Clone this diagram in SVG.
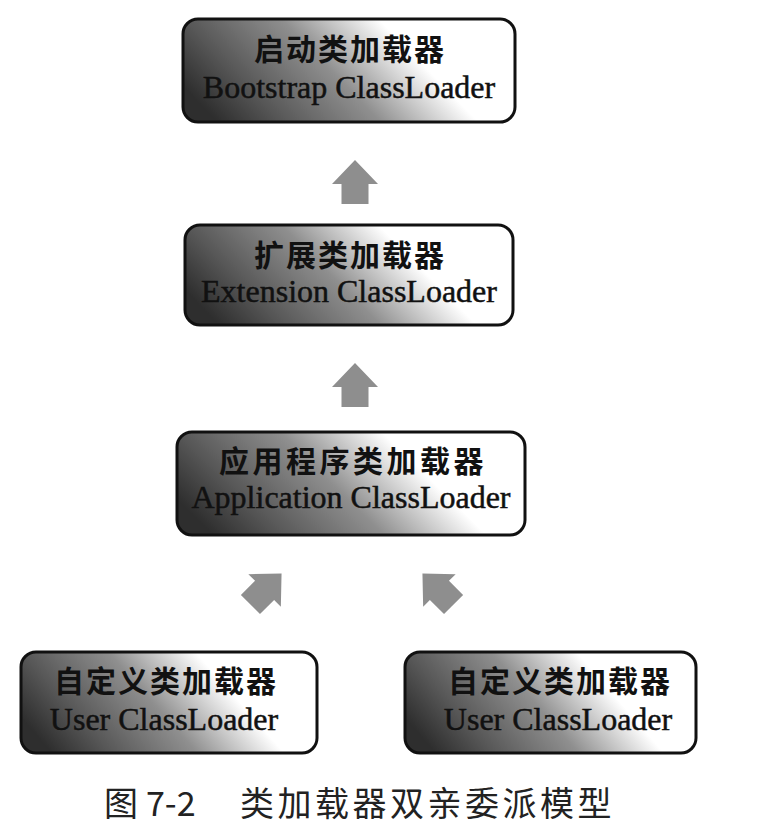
<svg xmlns="http://www.w3.org/2000/svg" width="778" height="832" viewBox="0 0 778 832">
<defs>
<linearGradient id="boxGrad" x1="0" y1="0.65" x2="1" y2="0.35">
<stop offset="0" stop-color="#2e2e2e"/>
<stop offset="0.18" stop-color="#575757"/>
<stop offset="0.45" stop-color="#8f8f8f"/>
<stop offset="0.72" stop-color="#ffffff"/>
<stop offset="1" stop-color="#ffffff"/>
</linearGradient>
<path id="arrowUp" d="M0,-22 L23,2 L13.5,2 L13.5,22 L-13.5,22 L-13.5,2 L-23,2 Z"/>
</defs>
<style>
.box{fill:url(#boxGrad);stroke:#111;stroke-width:3}
.zh{font-family:"Noto Sans CJK SC","Noto Sans CJK JP",sans-serif;font-weight:bold;font-size:30px;fill:#111;text-anchor:middle;letter-spacing:2px}
.en{font-family:"Liberation Serif","Times New Roman",serif;font-size:32px;fill:#111;stroke:#111;stroke-width:0.5;text-anchor:middle}
.arrow{fill:#8e8e8e}
.cap{font-family:"Noto Sans CJK SC","Noto Sans CJK JP",sans-serif;font-size:34px;fill:#222}
</style>
<rect width="778" height="832" fill="#ffffff"/>
<g id="bootstrap">
<rect class="box" x="183" y="19" width="332" height="103" rx="15"/>
<text class="zh" x="350" y="60">启动类加载器</text>
<text class="en" x="349" y="98">Bootstrap ClassLoader</text>
</g>
<g id="extension">
<rect class="box" x="185" y="225" width="328" height="100" rx="15"/>
<text class="zh" x="350" y="266">扩展类加载器</text>
<text class="en" x="349" y="302">Extension ClassLoader</text>
</g>
<g id="application">
<rect class="box" x="177" y="432" width="348" height="103" rx="15"/>
<text class="zh" x="353" y="472" style="letter-spacing:3.5px">应用程序类加载器</text>
<text class="en" x="351" y="508">Application ClassLoader</text>
</g>
<g id="user1">
<rect class="box" x="21" y="652" width="296" height="101" rx="15"/>
<text class="zh" x="166" y="692">自定义类加载器</text>
<text class="en" x="164" y="730">User ClassLoader</text>
</g>
<g id="user2">
<rect class="box" x="405" y="652" width="291" height="101" rx="15"/>
<text class="zh" x="560" y="692">自定义类加载器</text>
<text class="en" x="558" y="730">User ClassLoader</text>
</g>
<g id="connectors">
<use href="#arrowUp" class="arrow" transform="translate(355,182)"/>
<use href="#arrowUp" class="arrow" transform="translate(355,385)"/>
<use href="#arrowUp" class="arrow" transform="translate(266,589) rotate(45)"/>
<use href="#arrowUp" class="arrow" transform="translate(438,589) rotate(-45)"/>
</g>
<g id="caption">
<text class="cap" x="104" y="816">图</text>
<text class="cap" x="146" y="816">7-2</text>
<text class="cap" x="240" y="816" style="letter-spacing:3.5px">类加载器双亲委派模型</text>
</g>
</svg>
